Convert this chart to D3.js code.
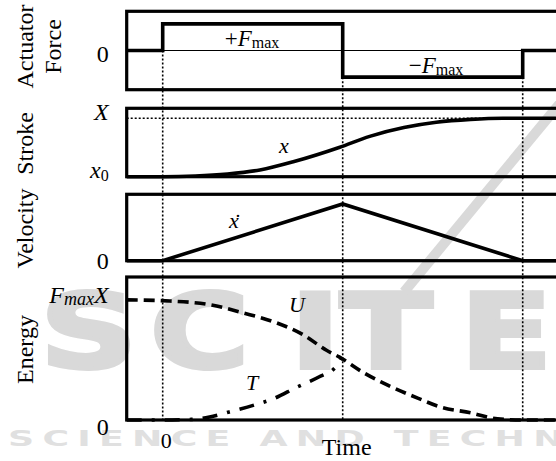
<!DOCTYPE html>
<html>
<head>
<meta charset="utf-8">
<script src="https://cdn.jsdelivr.net/npm/d3@7"></script>
<style>
body { margin: 0; background: #fff; }
svg { display: block; font-family: "Liberation Serif", "Times New Roman", serif; }
</style>
</head>
<body>
<svg id="chart" width="556" height="461"></svg>
<script>
// time unit: 0 = start of stroke, 1 = force reversal, 2 = end of stroke
const forceTime = [-0.2, 0, 1, 2, 2.25];
const forceValue = [0, 1, -1, 0, 0];

const strokeTime = [-0.2, 0, 0.18, 0.36, 0.54, 0.73, 0.98, 1.15, 1.34, 1.52, 1.71, 1.89, 2.25];
const strokeValue = [0, 0, 0.012, 0.047, 0.116, 0.26, 0.5, 0.69, 0.84, 0.93, 0.98, 1, 1];

const velocityTime = [-0.2, 0, 1, 2, 2.25];
const velocityValue = [0, 0, 1, 0, 0];

const potentialTime = [-0.2, 0.04, 0.26, 0.45, 0.63, 0.78, 0.91, 0.98, 1.12, 1.25, 1.42, 1.54, 1.71, 1.86, 2.0, 2.25];
const potentialValue = [1, 0.99, 0.96, 0.89, 0.81, 0.71, 0.58, 0.525, 0.39, 0.29, 0.18, 0.11, 0.06, 0.01, 0, 0];

const kineticTime = [-0.2, 0, 0.16, 0.26, 0.37, 0.51, 0.62, 0.74, 0.87, 0.96, 0.99];
const kineticValue = [0, 0, 0.005, 0.025, 0.067, 0.125, 0.18, 0.27, 0.36, 0.44, 0.51];

// dotted guides: time and the force level they hang from
const guideTime = [0, 1, 2];
const guideFrom = [0, -1, -1];

const forceTicks = [0], forceTickLabels = ['0'];
const strokeTicks = [1, 0], strokeTickLabels = ['X', 'x0'];
const velocityTicks = [0], velocityTickLabels = ['0'];
const energyTicks = [1, 0], energyTickLabels = ['FmaxX', '0'];
const timeTicks = [0], timeTickLabels = ['0'];

const panelTitles = [['Actuator', 'Force'], ['Stroke'], ['Velocity'], ['Energy']];

const serif = 'Liberation Serif';
const svg = d3.select('#chart');

const x = d3.scaleLinear().domain([-0.2, 2.25]).range([126.7, 567.7]);
const yForce = d3.scaleLinear().domain([-1.47, 1.47]).range([89.7, 11.3]);
const yStroke = d3.scaleLinear().domain([0, 1.17]).range([176.7, 108.3]);
const yVelocity = d3.scaleLinear().domain([0, 1.17]).range([260.7, 194.3]);
const yEnergy = d3.scaleLinear().domain([0, 1.19]).range([420, 277]);
const panels = [yForce, yStroke, yVelocity, yEnergy];

// watermark (behind everything)
const wm = svg.append('g').attr('fill', '#d9d9d9')
    .attr('font-family', 'DejaVu Sans').attr('font-weight', 'bold');
[['S', 40], ['C', 150], ['I', 290], ['T', 340], ['E', 460]].forEach(([ch, px]) => {
    wm.append('text')
        .attr('transform', 'translate(' + px + ',368) scale(1.3,1)')
        .attr('font-size', 104).attr('stroke', '#d9d9d9').attr('stroke-width', 4)
        .text(ch);
});
wm.append('line')
    .attr('x1', 566).attr('y1', 96).attr('x2', 404).attr('y2', 292)
    .attr('stroke', '#d9d9d9').attr('stroke-width', 10);
wm.append('text')
    .attr('transform', 'translate(8,446) scale(1.65,1)')
    .attr('font-size', 22).attr('letter-spacing', 5).attr('fill', '#e0e0e0')
    .text('SCIENCE AND TECHNOLOGY');

// dotted guides
svg.append('g').selectAll('line')
    .data(guideTime.map((t, i) => ({ t, from: guideFrom[i] })))
    .enter().append('line')
    .attr('x1', d => x(d.t)).attr('x2', d => x(d.t))
    .attr('y1', d => yForce(d.from)).attr('y2', yEnergy(0))
    .attr('stroke', '#000').attr('stroke-width', 1.6).attr('stroke-dasharray', '2,2');

// thin zero line of the force panel and X level of the stroke panel
svg.append('line')
    .attr('x1', x(-0.2)).attr('x2', x(2.25))
    .attr('y1', yForce(0)).attr('y2', yForce(0))
    .attr('stroke', '#000').attr('stroke-width', 1.2);
svg.append('line')
    .attr('x1', x(-0.2)).attr('x2', x(2.25))
    .attr('y1', yStroke(1)).attr('y2', yStroke(1))
    .attr('stroke', '#000').attr('stroke-width', 1.6).attr('stroke-dasharray', '2,2');

// panel frames
panels.forEach(s => {
    svg.append('rect')
        .attr('x', x(-0.2)).attr('y', s.range()[1])
        .attr('width', x(2.25) - x(-0.2)).attr('height', s.range()[0] - s.range()[1])
        .attr('fill', 'none').attr('stroke', '#000').attr('stroke-width', 3.2);
});

function drawCurve(times, values, yScale, curve, dash) {
    const line = d3.line().x(d => x(d[0])).y(d => yScale(d[1])).curve(curve);
    svg.append('path')
        .datum(times.map((t, i) => [t, values[i]]))
        .attr('d', line)
        .attr('fill', 'none').attr('stroke', '#000').attr('stroke-width', 3.6)
        .attr('stroke-dasharray', dash);
}
drawCurve(forceTime, forceValue, yForce, d3.curveStepAfter, null);
drawCurve(strokeTime, strokeValue, yStroke, d3.curveMonotoneX, null);
drawCurve(velocityTime, velocityValue, yVelocity, d3.curveLinear, null);
drawCurve(potentialTime, potentialValue, yEnergy, d3.curveMonotoneX, '11,6');
drawCurve(kineticTime, kineticValue, yEnergy, d3.curveMonotoneX, '15,10,3,10');

// rich tick labels
function richLabel(text, label) {
    text.text(null);
    const it = (s, size, dy) => text.append('tspan').style('font-style', 'italic')
        .attr('font-size', size).attr('dy', dy).text(s);
    if (label === 'X') it('X', 24, 0);
    else if (label === 'x0') {
        it('x', 24, 0);
        text.append('tspan').attr('font-size', 16).attr('dy', 3).text('0');
    } else if (label === 'FmaxX') {
        it('F', 24, 0); it('max', 18, 2); it('X', 24, -2);
    } else text.append('tspan').text(label);
}

function leftAxis(scale, ticks, labels, tweak) {
    const g = svg.append('g')
        .attr('transform', 'translate(' + x(-0.2) + ',0)')
        .call(d3.axisLeft(scale).tickValues(ticks).tickSize(0).tickPadding(18)
            .tickFormat((d, i) => labels[i]));
    g.select('.domain').remove();
    g.attr('font-family', serif).attr('font-size', 24);
    g.selectAll('.tick text').each(function (d, i) {
        const t = d3.select(this);
        richLabel(t, labels[i]);
        if (tweak && tweak[i]) t.attr('y', tweak[i]);
    });
}
leftAxis(yForce, forceTicks, forceTickLabels, [3]);
leftAxis(yStroke, strokeTicks, strokeTickLabels, [1, 1]);
leftAxis(yVelocity, velocityTicks, velocityTickLabels, null);
leftAxis(yEnergy, energyTicks, energyTickLabels, [3, 7]);

const bottom = svg.append('g')
    .attr('transform', 'translate(0,' + yEnergy(0) + ')')
    .call(d3.axisBottom(x).tickValues(timeTicks).tickSize(0).tickPadding(12)
        .tickFormat((d, i) => timeTickLabels[i]));
bottom.select('.domain').remove();
bottom.attr('font-family', serif).attr('font-size', 22);
bottom.selectAll('.tick text').attr('dx', 3);

svg.append('text')
    .attr('x', x(1) + 4).attr('y', 455)
    .attr('text-anchor', 'middle').attr('font-size', 24)
    .text('Time');

// rotated panel titles
panelTitles.forEach((lines, p) => {
    const r = panels[p].range();
    const cy = (r[0] + r[1]) / 2 + (lines.length > 1 ? -4 : 1);
    lines.forEach((s, k) => {
        svg.append('text')
            .attr('transform', 'translate(' + (33 + k * 28) + ',' + cy + ') rotate(-90)')
            .attr('text-anchor', 'middle').attr('font-size', 24)
            .text(s);
    });
});

// curve labels
const fmax = (sign, px, py) => {
    const t = svg.append('text').attr('x', px).attr('y', py)
        .attr('text-anchor', 'middle').attr('font-size', 23);
    t.append('tspan').text(sign);
    t.append('tspan').style('font-style', 'italic').text('F');
    t.append('tspan').attr('font-size', 16).attr('dy', 2).text('max');
};
fmax('+', 252, 46);
fmax('\u2212', 436, 73);

const italic = (s, px, py) => svg.append('text')
    .attr('x', px).attr('y', py).attr('text-anchor', 'middle')
    .attr('font-size', 22).style('font-style', 'italic').text(s);
italic('x', 284, 153);
italic('x', 234, 228);
svg.append('text').attr('x', 238).attr('y', 229)
    .attr('text-anchor', 'middle').attr('font-size', 22).text('\u02D9');
italic('U', 297, 312);
italic('T', 252, 390);
</script>
</body>
</html>
